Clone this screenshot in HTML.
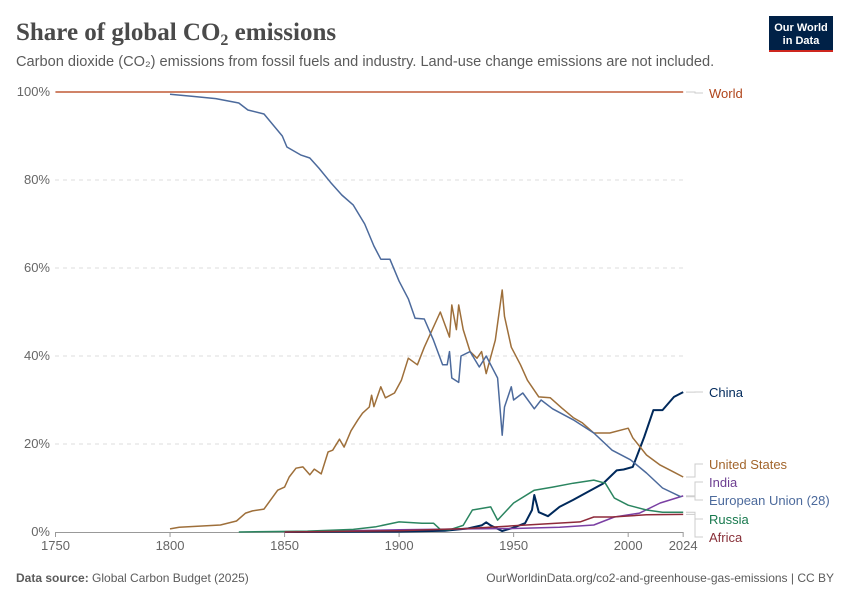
<!DOCTYPE html>
<html><head><meta charset="utf-8"><style>
body{margin:0;background:#fff;width:850px;height:600px;overflow:hidden;font-family:"Liberation Sans",sans-serif}
#c{position:absolute;left:0;top:0}
</style></head><body>
<svg id="c" width="850" height="600" xmlns="http://www.w3.org/2000/svg">
<text x="16" y="40" font-family="Liberation Serif,serif" font-size="25" font-weight="bold" fill="#4a4a4a">Share of global CO<tspan font-size="16" dy="5">2</tspan><tspan dy="-5"> emissions</tspan></text>
<text x="16" y="66" font-size="14.6" fill="#5b5b5b">Carbon dioxide (CO₂) emissions from fossil fuels and industry. Land-use change emissions are not included.</text>
<g>
<rect x="769" y="16" width="64" height="36" fill="#002147"/>
<rect x="769" y="50" width="64" height="2" fill="#ce261e"/>
<text x="801" y="31" font-size="11" font-weight="bold" fill="#fff" text-anchor="middle">Our World</text>
<text x="801" y="44" font-size="11" font-weight="bold" fill="#fff" text-anchor="middle">in Data</text>
</g>
<g id="grid"></g><g id="axes"></g><g id="series"></g><g id="labels"></g>
<text x="16" y="582" font-size="12" fill="#5b5b5b"><tspan font-weight="bold">Data source:</tspan> Global Carbon Budget (2025)</text>
<text x="834" y="582" font-size="12" fill="#5b5b5b" text-anchor="end">OurWorldinData.org/co2-and-greenhouse-gas-emissions | CC BY</text>
</svg>
<script>
const xTicks=[1750,1800,1850,1900,1950,2000,2024];
const yTicks=[0,20,40,60,80,100];
const worldYears=[1750,2024];
const worldVals=[100,100];
const euYears=[1800,1810,1820,1830,1834,1841,1849,1851,1857,1861,1865,1870,1875,1880,1885,1889,1892,1896,1900,1904,1907,1911,1915,1919,1921,1922,1923,1926,1927,1931,1935,1938,1941,1943,1945,1946,1949,1950,1954,1959,1962,1967,1976,1985,1993,2001,2008,2015,2023];
const euVals=[99.5,99,98.5,97.5,95.9,95,90,87.5,85.7,85,82.7,79.5,76.6,74.3,70,65,62,62,57,53,48.6,48.4,43.6,38,38,41,35,34,40,41,37.5,40,37,35,22,28.4,33,30,31.6,28,30,28,25.5,22.5,18.6,16.4,13.4,10,8];
const usYears=[1800,1804,1822,1829,1833,1836,1841,1847,1850,1852,1855,1858,1861,1863,1866,1869,1871,1874,1876,1879,1882,1884,1887,1888,1889,1892,1894,1898,1901,1904,1908,1911,1918,1922,1923,1925,1926,1928,1931,1934,1936,1938,1942,1945,1946,1949,1953,1956,1961,1966,1971,1976,1980,1985,1992,2000,2002,2008,2014,2020,2024];
const usVals=[0.7,1.1,1.6,2.5,4.3,4.8,5.2,9.5,10.2,12.5,14.5,14.8,13,14.3,13.2,18.2,18.6,21.1,19.3,23,25.5,27,28.4,31.1,28.5,33,30.5,31.6,34.5,39.5,38,42,50,44.3,51.6,46,51.6,46,41,39.5,41,36,43.6,55,49,42,38,34.5,30.7,30.5,28.2,26,24.8,22.5,22.5,23.6,21.4,17.5,15.2,13.6,12.5];
const cnYears=[1850,1900,1920,1930,1936,1938,1940,1945,1950,1955,1958,1959,1961,1965,1970,1976,1982,1989,1995,1998,2002,2007,2011,2015,2020,2024];
const cnVals=[0,0.1,0.3,0.8,1.5,2.2,1.5,0.2,1,2,5,8.4,4.5,3.6,5.7,7.3,9,11,14,14.2,14.8,21.6,27.7,27.7,30.7,31.8];
const ruYears=[1830,1860,1880,1890,1900,1910,1915,1918,1922,1928,1932,1940,1943,1950,1959,1967,1976,1985,1990,1994,2000,2008,2015,2024];
const ruVals=[0,0.2,0.6,1.2,2.3,2,2,0.6,0.5,1.5,5,5.7,2.7,6.6,9.5,10.2,11.1,11.8,11.1,7.7,6.1,5,4.5,4.5];
const inYears=[1850,1900,1930,1950,1970,1985,1994,2005,2014,2024];
const inVals=[0,0.5,0.7,0.8,1.1,1.6,3.4,4.3,6.6,8.2];
const afYears=[1850,1900,1930,1950,1979,1985,1993,2008,2024];
const afVals=[0,0.3,0.8,1.4,2.3,3.4,3.4,3.9,4];
const NS="http://www.w3.org/2000/svg";
const X=y=>55.5+(y-1750)*2.2907;
const Y=v=>532-v*4.4;
function mk(t,a,p){const e=document.createElementNS(NS,t);for(const k in a)e.setAttribute(k,a[k]);p.appendChild(e);return e;}
const grid=document.getElementById('grid'),axes=document.getElementById('axes'),ser=document.getElementById('series'),lab=document.getElementById('labels');
yTicks.forEach(v=>{
 if(v>0){const l=mk('line',{x1:55,x2:683,y1:Y(v),y2:Y(v),stroke:'#ddd','stroke-dasharray':'4,4'},grid);
 
 }
 const t=mk('text',{x:50,y:Y(v)+4,'text-anchor':'end','font-size':13,fill:'#666'},axes);t.textContent=v+'%';
 
 
});
const ax=mk('line',{x1:55,x2:683,y1:532.5,y2:532.5,stroke:'#999'},axes);


xTicks.forEach(y=>{
 mk('line',{x1:X(y),x2:X(y),y1:532,y2:537,stroke:'#999'},axes);
 const t=mk('text',{x:X(y),y:550,'text-anchor':'middle','font-size':13,fill:'#666'},axes);t.textContent=y;
 
 
});
const S=[
 ['world',worldYears,worldVals,'#c05a36','World','#b0451b',93],
 ['china',cnYears,cnVals,'#00295b','China','#00295b',392],
 ['united-states',usYears,usVals,'#9e6f3a','United States','#a2652c',464],
 ['india',inYears,inVals,'#7a3fa3','India','#6d3e91',482],
 ['european-union',euYears,euVals,'#4c6a9c','European Union (28)','#4c6a9c',500],
 ['russia',ruYears,ruVals,'#2b8560','Russia','#18794e',519],
 ['africa',afYears,afVals,'#8e2a3a','Africa','#883039',537]
];
S.forEach(([id,ys,vs,c,name,lc,ly])=>{
 const p=mk('polyline',{points:ys.map((y,i)=>X(y).toFixed(1)+','+Y(vs[i]).toFixed(1)).join(' '),fill:'none',stroke:c,'stroke-width':id==='china'?2:1.5,'stroke-linejoin':'round'},ser);
 
 
 const ey=Y(vs[vs.length-1]);
 const cn=mk('polyline',{points:`686,${ey} 695,${ey} 695,${ly} 703,${ly}`,fill:'none',stroke:'#ccc'},lab);
 
 
 const t=mk('text',{x:709,y:ly+5,'font-size':13,fill:lc},lab);t.textContent=name;
 
 
});
</script>
</body></html>
